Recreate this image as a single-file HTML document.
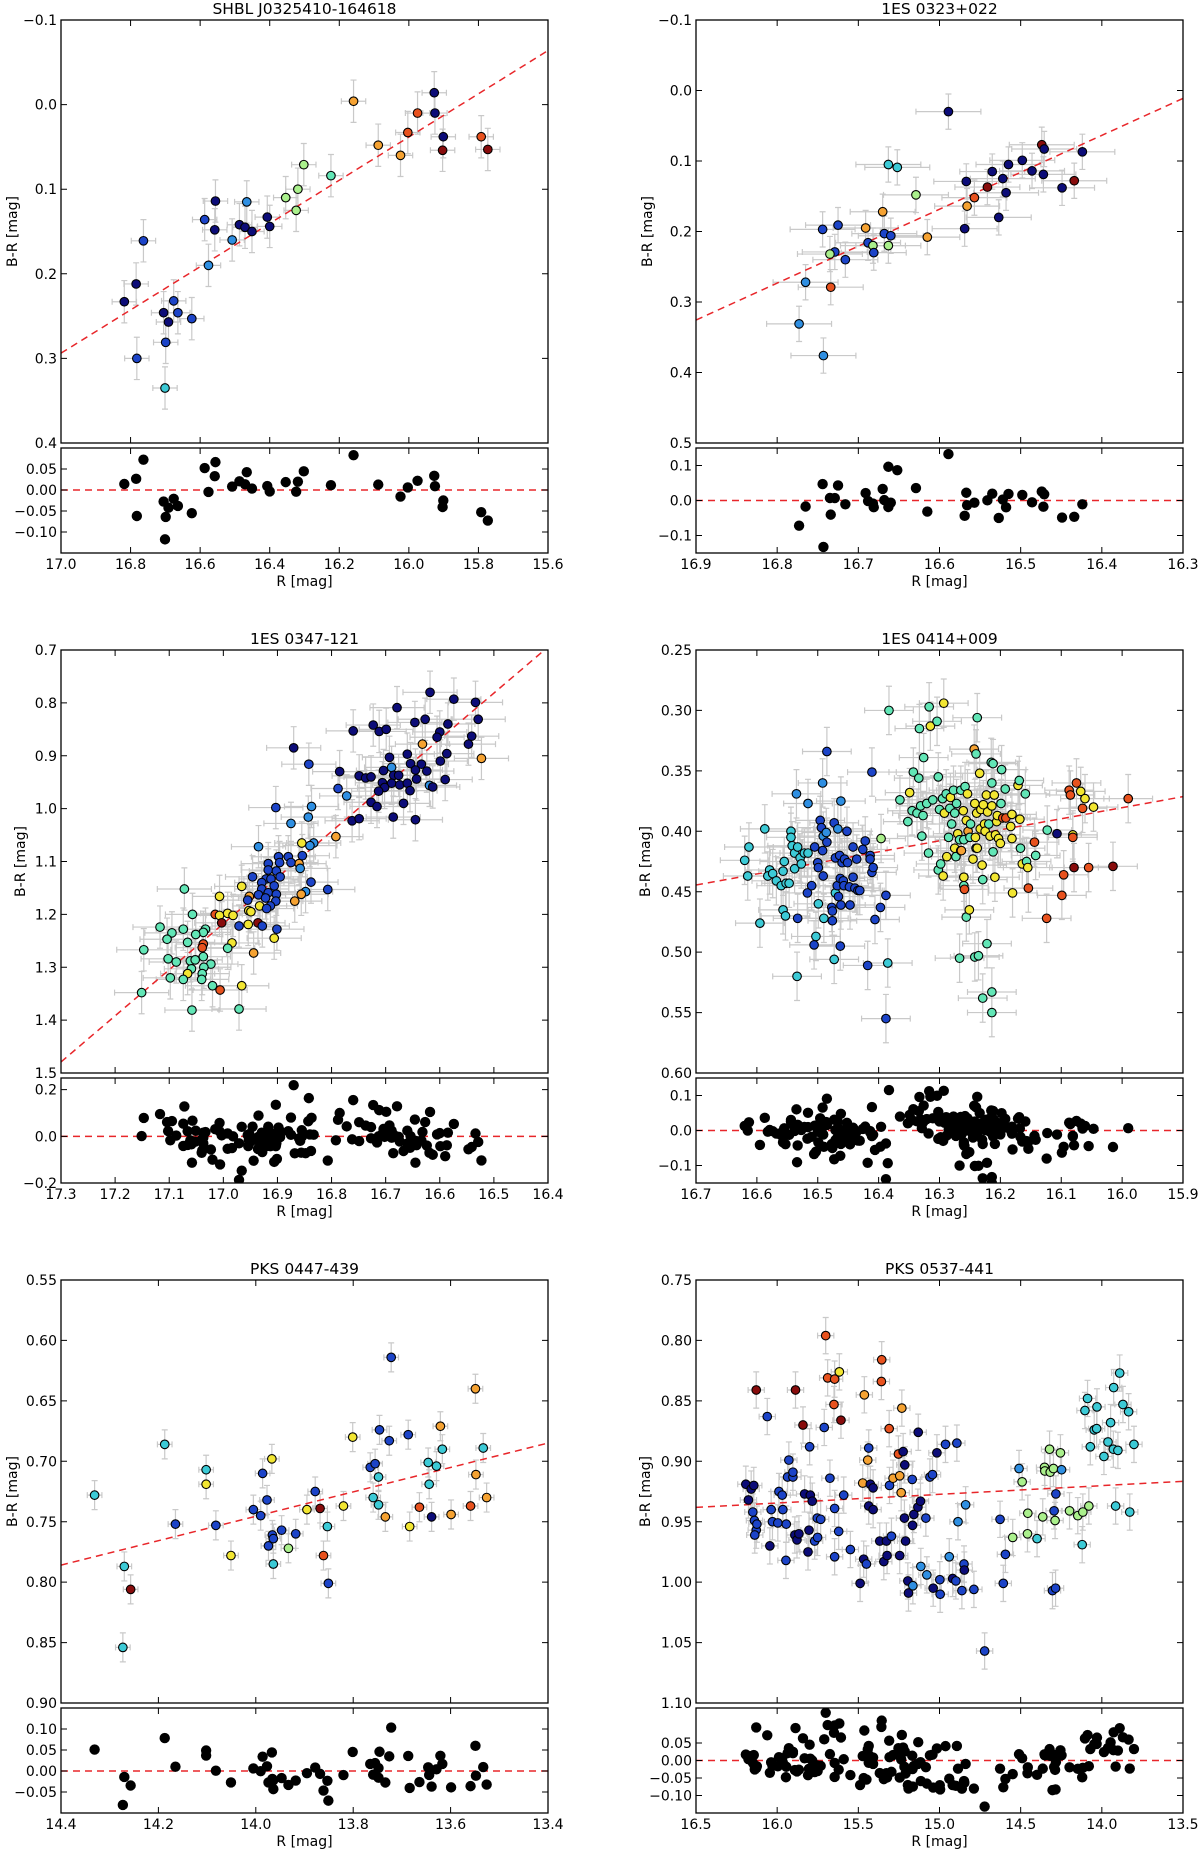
<!DOCTYPE html>
<html><head><meta charset="utf-8"><title>B-R vs R color-magnitude diagrams</title>
<style>
html,body{margin:0;padding:0;background:#fff;}
svg{display:block;font-family:"DejaVu Sans","Liberation Sans",sans-serif;}
</style></head>
<body>
<svg id="fig" xmlns="http://www.w3.org/2000/svg" width="1200" height="1852" viewBox="0 0 1200 1852"></svg>
<script>
// ===== Panel 1: SHBL J0325410-164618 =====
const p1R=[16.818,16.784,16.763,16.782,16.705,16.691,16.676,16.664,16.699,16.701,16.624,16.587,16.556,16.558,16.576,16.508,16.487,16.471,16.466,16.451,16.407,16.400,16.354,16.324,16.319,16.302,16.224,16.159,16.088,16.024,16.003,15.975,15.927,15.925,15.901,15.903,15.792,15.773];
const p1BR=[0.233,0.212,0.161,0.300,0.246,0.257,0.232,0.246,0.281,0.335,0.253,0.136,0.114,0.148,0.190,0.160,0.142,0.145,0.115,0.150,0.133,0.144,0.110,0.125,0.100,0.071,0.084,-0.004,0.048,0.060,0.033,0.010,-0.014,0.010,0.038,0.054,0.038,0.053];
const p1Col="nnbbnnbbbcbbnnllnnlnnnggggaooorrnnndrd";
const p1Fit=[16.989,0.291,0.2555];
const p1Err=[0.035,0.025];
const p1XTicks=[17.0,16.8,16.6,16.4,16.2,16.0,15.8,15.6];
const p1XLabels=["17.0","16.8","16.6","16.4","16.2","16.0","15.8","15.6"];
const p1YTicks=[-0.1,0.0,0.1,0.2,0.3,0.4];
const p1YLabels=["\u22120.1","0.0","0.1","0.2","0.3","0.4"];
const p1ResTicks=[0.05,0.0,-0.05,-0.10];
const p1ResLabels=["0.05","0.00","\u22120.05","\u22120.10"];

// ===== Panel 2: 1ES 0323+022 =====
const p2R=[16.589,16.663,16.652,16.744,16.725,16.629,16.670,16.691,16.668,16.660,16.688,16.682,16.663,16.681,16.729,16.735,16.716,16.765,16.734,16.773,16.743,16.615,16.569,16.567,16.566,16.557,16.541,16.535,16.527,16.522,16.518,16.515,16.498,16.486,16.474,16.471,16.472,16.449,16.434,16.424];
const p2BR=[0.030,0.105,0.109,0.197,0.191,0.148,0.172,0.195,0.203,0.206,0.216,0.220,0.220,0.230,0.229,0.232,0.240,0.272,0.279,0.331,0.376,0.208,0.196,0.129,0.164,0.152,0.137,0.115,0.180,0.125,0.145,0.105,0.099,0.114,0.077,0.083,0.119,0.138,0.128,0.087];
const p2Col="nccbbgoobbbggbbgblrllonnordnnnnnnndnnndn";
const p2Fit=[16.895,0.323,0.524];
const p2Err=[0.04,0.025];
const p2XTicks=[16.9,16.8,16.7,16.6,16.5,16.4,16.3];
const p2XLabels=["16.9","16.8","16.7","16.6","16.5","16.4","16.3"];
const p2YTicks=[-0.1,0.0,0.1,0.2,0.3,0.4,0.5];
const p2YLabels=["\u22120.1","0.0","0.1","0.2","0.3","0.4","0.5"];
const p2ResTicks=[0.1,0.0,-0.1];
const p2ResLabels=["0.1","0.0","\u22120.1"];

// ===== Panel 3: 1ES 0347-121 =====
const p3R=[16.618,16.574,16.534,16.679,16.529,16.646,16.627,16.723,16.585,16.760,16.712,16.699,16.600,16.605,16.541,16.547,16.632,16.870,16.523,16.587,16.660,16.693,16.599,16.842,16.654,16.634,16.689,16.785,16.704,16.645,16.624,16.749,16.737,16.727,16.685,16.676,16.590,16.643,16.706,16.689,16.674,16.660,16.619,16.613,16.788,16.702,16.655,16.713,16.772,16.727,16.667,16.716,16.903,16.837,16.843,16.762,16.749,16.686,16.645,16.875,16.792,16.855,16.833,16.840,16.935,16.898,16.880,16.854,16.860,16.917,16.896,16.875,16.858,16.917,16.902,16.946,16.895,16.921,16.929,16.912,16.906,16.838,16.807,16.929,16.966,17.072,16.917,16.848,16.935,16.902,16.856,17.007,16.952,16.922,16.955,16.903,16.868,16.913,16.933,16.920,16.953,16.949,17.057,17.015,17.007,16.992,16.982,17.003,16.936,16.954,16.971,16.928,16.901,17.117,17.074,17.095,17.033,17.037,17.051,17.104,17.066,16.984,17.037,17.039,16.992,17.147,16.906,16.944,17.037,17.102,17.087,17.061,17.052,17.023,17.036,17.059,17.066,17.039,17.098,17.074,17.040,17.020,17.006,16.966,17.151,17.058,16.971];
const p3BR=[0.780,0.793,0.799,0.809,0.831,0.837,0.831,0.842,0.840,0.853,0.854,0.850,0.855,0.865,0.863,0.878,0.878,0.885,0.905,0.896,0.897,0.903,0.910,0.916,0.915,0.916,0.922,0.930,0.928,0.927,0.929,0.938,0.942,0.940,0.937,0.937,0.945,0.944,0.951,0.952,0.955,0.952,0.956,0.959,0.962,0.960,0.966,0.967,0.976,0.988,0.990,0.996,0.998,0.996,1.016,1.023,1.019,1.016,1.021,1.028,1.053,1.065,1.065,1.070,1.072,1.091,1.091,1.089,1.104,1.104,1.102,1.102,1.113,1.116,1.118,1.129,1.129,1.133,1.140,1.133,1.146,1.139,1.153,1.152,1.147,1.152,1.159,1.157,1.163,1.162,1.162,1.166,1.166,1.169,1.173,1.175,1.175,1.184,1.184,1.189,1.193,1.195,1.200,1.200,1.202,1.198,1.202,1.216,1.216,1.219,1.222,1.222,1.228,1.224,1.228,1.235,1.228,1.234,1.238,1.247,1.253,1.254,1.256,1.263,1.264,1.267,1.245,1.273,1.280,1.284,1.290,1.288,1.286,1.294,1.300,1.303,1.312,1.312,1.320,1.323,1.323,1.335,1.343,1.335,1.348,1.381,1.379];
const p3Col="nnnnnnnnnn"+"nnnnnnonon"+"nnnbnnlnnn"+"nnnnnnnnnn"+"nnlnbnnnln"+"nnbllnnnnl"+"oylllbbbob"+"bblbbbbbbb"+"bbbbyablbb"+"oyobbbobyb"+"yyaryyyddy"+"bbbaaaaaaa"+"ayrraayoaa"+"aaaaaayaaa"+"aaryaaa";
const p3Fit=[17.293,1.473,0.872];
const p3Err=[0.05,0.04];
const p3XTicks=[17.3,17.2,17.1,17.0,16.9,16.8,16.7,16.6,16.5,16.4];
const p3XLabels=["17.3","17.2","17.1","17.0","16.9","16.8","16.7","16.6","16.5","16.4"];
const p3YTicks=[0.7,0.8,0.9,1.0,1.1,1.2,1.3,1.4,1.5];
const p3YLabels=["0.7","0.8","0.9","1.0","1.1","1.2","1.3","1.4","1.5"];
const p3ResTicks=[0.2,0.0,-0.2];
const p3ResLabels=["0.2","0.0","\u22120.2"];

// ===== Panel 4: 1ES 0414+009 =====
const p4R=[16.620,16.613,16.615,16.587,16.595,16.579,16.582,16.574,16.568,16.560,16.557,16.555,16.552,16.547,16.557,16.553,16.544,16.544,16.542,16.538,16.538,16.535,16.534,16.533,16.533,16.529,16.527,16.522,16.516,16.516,16.517,16.510,16.505,16.500,16.499,16.499,16.506,16.503,16.496,16.494,16.492,16.491,16.492,16.491,16.490,16.486,16.485,16.485,16.477,16.476,16.476,16.473,16.471,16.471,16.468,16.467,16.466,16.464,16.463,16.463,16.462,16.462,16.460,16.458,16.457,16.456,16.473,16.452,16.451,16.448,16.447,16.442,16.442,16.439,16.436,16.434,16.431,16.426,16.422,16.414,16.414,16.411,16.409,16.411,16.418,16.406,16.397,16.396,16.388,16.385,16.388,
16.383,16.365,16.352,16.349,16.345,16.343,16.337,16.334,16.333,16.331,16.329,16.327,16.326,16.321,16.318,16.317,16.315,16.311,16.304,16.302,16.302,16.300,16.298,16.295,16.294,16.293,16.292,16.289,16.288,16.285,16.283,16.282,16.280,16.277,16.275,16.275,16.273,16.272,16.270,16.267,16.267,16.265,16.265,16.264,16.261,16.260,16.260,16.260,16.259,16.256,16.258,16.256,16.254,16.253,16.251,16.250,16.249,16.245,16.243,16.242,16.241,16.240,16.240,16.238,16.238,16.239,16.242,16.236,16.234,16.233,16.232,16.230,16.229,16.229,16.228,16.226,16.225,16.223,16.222,16.221,16.219,16.217,16.215,16.214,16.214,16.212,16.212,16.214,16.214,16.210,16.209,16.208,16.206,16.205,16.203,16.200,16.199,16.198,16.196,16.192,16.191,16.183,16.181,16.181,16.180,16.171,16.169,16.168,16.167,16.164,16.159,16.157,16.155,16.154,16.144,16.142,16.124,16.123,16.107,16.099,16.096,16.087,16.085,16.081,16.081,16.079,16.075,16.068,16.065,16.061,16.055,16.047,16.015,15.990];
const p4BR=[0.424,0.413,0.437,0.398,0.476,0.432,0.437,0.435,0.441,0.445,0.433,0.425,0.443,0.443,0.465,0.470,0.400,0.405,0.412,0.418,0.431,0.369,0.520,0.472,0.413,0.422,0.427,0.418,0.418,0.377,0.451,0.445,0.413,0.426,0.430,0.460,0.494,0.487,0.391,0.397,0.360,0.404,0.416,0.437,0.472,0.401,0.334,0.409,0.463,0.466,0.474,0.393,0.422,0.451,0.445,0.398,0.454,0.420,0.439,0.495,0.375,0.461,0.426,0.441,0.445,0.423,0.506,0.400,0.426,0.446,0.461,0.438,0.413,0.447,0.423,0.449,0.449,0.415,0.408,0.420,0.423,0.434,0.430,0.351,0.511,0.473,0.463,0.406,0.453,0.509,0.555,
0.300,0.374,0.392,0.368,0.383,0.351,0.385,0.356,0.315,0.379,0.404,0.387,0.339,0.377,0.418,0.297,0.313,0.374,0.309,0.355,0.432,0.382,0.427,0.373,0.437,0.294,0.385,0.369,0.421,0.405,0.381,0.372,0.394,0.366,0.385,0.414,0.421,0.377,0.402,0.407,0.505,0.366,0.416,0.416,0.383,0.438,0.445,0.407,0.448,0.391,0.363,0.471,0.369,0.400,0.465,0.405,0.394,0.423,0.332,0.377,0.405,0.336,0.414,0.306,0.414,0.385,0.504,0.503,0.352,0.398,0.382,0.428,0.440,0.538,0.378,0.394,0.400,0.370,0.493,0.384,0.394,0.404,0.343,0.360,0.379,0.344,0.417,0.533,0.550,0.370,0.438,0.403,0.392,0.387,0.406,0.410,0.377,0.349,0.389,0.365,0.389,0.396,0.386,0.406,0.451,0.362,0.358,0.390,0.414,0.427,0.369,0.425,0.430,0.447,0.409,0.420,0.472,0.399,0.402,0.453,0.436,0.366,0.370,0.403,0.405,0.430,0.360,0.367,0.381,0.373,0.430,0.380,0.429,0.373];
const p4Col="cccccccccc"+"cccccccccc"+"clcbcccccl"+"bbbbbcbcbb"+"llbbclbbbb"+"bbbcblbbbb"+"lbbbbbcbbb"+"bbbbbbbbbb"+"bbbbbbbgbcb"+
"aaayaaaaaa"+"aaaaaayaaa"+"aaaayyyaya"+"ayaaayaaya"+"aayoyyaary"+"aayoyaayoy"+"yaaayyaayy"+"yyaayyyyay"+"ayaayaaaay"+"yyyyyyaara"+"ryyyyyayay"+"aayrraranrr"+"rryrdryryr"+"ydrr";
const p4Fit=[16.695,0.444,0.0914];
const p4Err=[0.04,0.02];
const p4XTicks=[16.7,16.6,16.5,16.4,16.3,16.2,16.1,16.0,15.9];
const p4XLabels=["16.7","16.6","16.5","16.4","16.3","16.2","16.1","16.0","15.9"];
const p4YTicks=[0.25,0.30,0.35,0.40,0.45,0.50,0.55,0.60];
const p4YLabels=["0.25","0.30","0.35","0.40","0.45","0.50","0.55","0.60"];
const p4ResTicks=[0.1,0.0,-0.1];
const p4ResLabels=["0.1","0.0","\u22120.1"];

// ===== Panel 5: PKS 0447-439 =====
const p5R=[14.331,14.270,14.257,14.273,14.187,14.165,14.102,14.102,14.082,14.051,14.005,13.990,13.986,13.977,13.974,13.967,13.966,13.964,13.964,13.947,13.933,13.918,13.895,13.878,13.868,13.861,13.853,13.851,13.820,13.801,13.765,13.755,13.759,13.748,13.748,13.746,13.734,13.726,13.722,13.687,13.684,13.664,13.646,13.644,13.639,13.629,13.621,13.617,13.599,13.559,13.549,13.548,13.533,13.526];
const p5BR=[0.728,0.787,0.806,0.854,0.686,0.752,0.707,0.719,0.753,0.778,0.740,0.745,0.710,0.732,0.770,0.698,0.761,0.764,0.785,0.757,0.772,0.760,0.740,0.725,0.739,0.778,0.754,0.801,0.737,0.680,0.705,0.702,0.730,0.713,0.736,0.674,0.746,0.683,0.614,0.678,0.754,0.738,0.701,0.719,0.746,0.704,0.671,0.690,0.744,0.737,0.640,0.711,0.689,0.730];
const p5Col="ccdccbcyby"+"bbbbbybbcb"+"gbybdrcbyy"+"bbcccbobbb"+"yrccncocor"+"ooco";
const p5Fit=[14.391,0.785,0.101];
const p5Err=[0.015,0.012];
const p5XTicks=[14.4,14.2,14.0,13.8,13.6,13.4];
const p5XLabels=["14.4","14.2","14.0","13.8","13.6","13.4"];
const p5YTicks=[0.55,0.60,0.65,0.70,0.75,0.80,0.85,0.90];
const p5YLabels=["0.55","0.60","0.65","0.70","0.75","0.80","0.85","0.90"];
const p5ResTicks=[0.10,0.05,0.0,-0.05];
const p5ResLabels=["0.10","0.05","0.00","\u22120.05"];

// ===== Panel 6: PKS 0537-441 =====
const p6R=[16.193,16.177,16.160,16.144,16.150,16.140,16.129,16.138,16.125,16.129,16.061,16.045,16.037,16.029,15.996,15.989,15.969,15.965,15.944,15.946,15.936,15.928,15.903,15.903,15.891,15.878,15.887,15.866,15.841,15.831,15.810,15.804,15.800,15.796,15.784,15.769,15.753,15.751,15.732,15.710,15.701,15.689,15.675,15.650,15.646,15.646,15.646,15.617,15.621,15.607,15.590,15.549,15.489,15.473,15.467,15.463,15.450,15.442,15.436,15.436,15.426,15.409,15.409,15.368,15.356,15.358,15.343,15.327,15.323,15.310,15.308,15.296,15.286,15.253,15.245,15.245,15.236,15.232,15.224,15.216,15.214,15.209,15.195,15.191,15.168,15.164,15.166,15.158,15.131,15.133,15.117,15.115,15.084,15.078,15.059,15.043,15.039,15.016,14.998,14.996,14.963,14.940,14.919,14.899,14.893,14.886,14.862,14.849,14.847,14.839,14.788,14.722,14.627,14.607,14.594,14.549,14.510,14.491,14.458,14.456,14.399,14.364,14.353,14.351,14.322,14.318,14.298,14.304,14.285,14.294,14.288,14.283,14.255,14.248,14.199,14.148,14.121,14.117,14.104,14.088,14.080,14.071,14.047,14.032,14.030,13.987,13.962,13.946,13.929,13.927,13.915,13.901,13.890,13.870,13.835,13.828,13.802];
const p6BR=[0.919,0.932,0.923,0.920,0.942,0.949,0.957,0.961,0.952,0.841,0.863,0.970,0.940,0.950,0.951,0.925,0.928,0.940,0.952,0.982,0.913,0.899,0.913,0.909,0.961,0.965,0.841,0.960,0.870,0.927,0.975,0.957,0.888,0.928,0.933,0.966,0.947,0.963,0.948,0.872,0.796,0.831,0.914,0.853,0.832,0.939,0.979,0.826,0.958,0.866,0.928,0.973,1.001,0.918,0.981,0.845,0.985,0.899,0.889,0.937,0.919,0.922,0.940,0.966,0.816,0.834,0.983,0.966,0.978,0.873,0.920,0.962,0.914,0.894,0.912,0.978,0.926,0.856,0.892,0.947,0.903,0.966,0.999,1.009,0.915,1.003,0.953,0.944,0.876,0.938,0.933,0.987,0.947,0.994,0.913,0.911,1.005,0.893,0.998,1.010,0.886,0.979,0.997,0.999,0.885,0.950,1.007,0.985,0.990,0.936,1.006,1.057,0.948,1.001,0.977,0.963,0.906,0.917,0.960,0.943,0.964,0.946,0.905,0.908,0.890,0.909,0.906,1.007,1.005,0.941,0.949,0.927,0.893,0.907,0.941,0.945,0.969,0.942,0.858,0.848,0.937,0.888,0.874,0.873,0.855,0.896,0.884,0.868,0.890,0.839,0.937,0.891,0.827,0.853,0.859,0.942,0.886];
const p6Col="nnnnbbbbbd"+"bnbbbbbbbb"+"bbbbnndndn"+"nnbnnbbbbb"+"rrbrrbbybd"+"bbnonobobn"+"nnnnrrnnnr"+"bboronoonn"+"nnnnblnnnn"+"nlblbbnnbb"+"blnbblbbnl"+"bbbbbglggg"+"cggggggbbb"+"gbglggcgcc"+"gccccccccc"+"ccccccc";
const p6Fit=[16.479,0.938,0.0072];
const p6Err=[0.05,0.015];
const p6XTicks=[16.5,16.0,15.5,15.0,14.5,14.0,13.5];
const p6XLabels=["16.5","16.0","15.5","15.0","14.5","14.0","13.5"];
const p6YTicks=[0.75,0.80,0.85,0.90,0.95,1.00,1.05,1.10];
const p6YLabels=["0.75","0.80","0.85","0.90","0.95","1.00","1.05","1.10"];
const p6ResTicks=[0.05,0.0,-0.05,-0.10];
const p6ResLabels=["0.05","0.00","\u22120.05","\u22120.10"];

const COLORS={n:"#0c0c78",b:"#1c44c8",l:"#2f8fe2",c:"#3ccad6",a:"#62e6b6",g:"#aaf08c",y:"#f2e632",o:"#f5a232",r:"#e8521e",d:"#880c0c"};
const NS="http://www.w3.org/2000/svg";
const svg=document.getElementById("fig");
function mk(tag,attrs,parent){const e=document.createElementNS(NS,tag);for(const k in attrs)e.setAttribute(k,attrs[k]);(parent||svg).appendChild(e);return e;}

function panel(id,title,cfg){
  const {R,BR,col,fit,err,xt,xl,yt,yl,rt,rl,xr,yr,rr,x0,x1,top,bot,rtop,rbot,ylabX}=cfg;
  const g=mk("g",{});
  
  
  const sx=v=>x0+(v-xr[0])/(xr[1]-xr[0])*(x1-x0);
  const sy=v=>top+(v-yr[0])/(yr[1]-yr[0])*(bot-top);
  const sr=v=>rtop+(rr[1]-v)/(rr[1]-rr[0])*(rbot-rtop);
  const fitF=r=>fit[1]+fit[2]*(r-fit[0]);
  // clip
  const cp=mk("clipPath",{id:id+"-clip"},g);mk("rect",{x:x0,y:top,width:x1-x0,height:bot-top},cp);
  const cpr=mk("clipPath",{id:id+"-rclip"},g);mk("rect",{x:x0,y:rtop,width:x1-x0,height:rbot-rtop},cpr);
  // title
  const t=mk("text",{x:(x0+x1)/2,y:top-6,"text-anchor":"middle","font-size":"15.5"},g);t.textContent=title;
  
  
  // y label
  const yL=mk("text",{x:ylabX,y:(top+bot)/2,"text-anchor":"middle","font-size":"14",transform:"rotate(-90 "+ylabX+" "+(top+bot)/2+")",dy:"0.35em"},g);yL.textContent="B-R [mag]";
  
  
  // x label
  const xL=mk("text",{x:(x0+x1)/2,y:rbot+33,"text-anchor":"middle","font-size":"14"},g);xL.textContent="R [mag]";
  
  
  // error bars
  const eg=mk("g",{stroke:"#c9c9c9","stroke-width":"1.2","clip-path":"url(#"+id+"-clip)"},g);
  
  
  for(let i=0;i<R.length;i++){
    const cx=sx(R[i]),cy=sy(BR[i]);
    const xa=sx(R[i]+err[0]),xb=sx(R[i]-err[0]),ya=sy(BR[i]-err[1]),yb=sy(BR[i]+err[1]);
    mk("path",{d:`M${xa},${cy}H${xb}M${xa},${cy-3}V${cy+3}M${xb},${cy-3}V${cy+3}M${cx},${ya}V${yb}M${cx-3},${ya}H${cx+3}M${cx-3},${yb}H${cx+3}`,fill:"none"},eg);
  }
  // fit line
  const fl=mk("line",{x1:x0,y1:sy(fitF(xr[0])),x2:x1,y2:sy(fitF(xr[1])),stroke:"#e8262a","stroke-width":"1.5","stroke-dasharray":"7,5","clip-path":"url(#"+id+"-clip)"},g);
  
  
  // points
  const pg=mk("g",{"clip-path":"url(#"+id+"-clip)"},g);
  for(let i=0;i<R.length;i++){
    const c=mk("circle",{cx:sx(R[i]),cy:sy(BR[i]),r:"4.3",fill:COLORS[col[i]]||"#1c44c8",stroke:"#000","stroke-width":"1.1"},pg);
    
    
  }
  // residual zero line and dots
  const zl=mk("line",{x1:x0,y1:sr(0),x2:x1,y2:sr(0),stroke:"#e8262a","stroke-width":"1.5","stroke-dasharray":"7,5"},g);
  
  
  const rg=mk("g",{"clip-path":"url(#"+id+"-rclip)"},g);
  for(let i=0;i<R.length;i++){
    const res=fitF(R[i])-BR[i];
    const c=mk("circle",{cx:sx(R[i]),cy:sr(res),r:"5.2",fill:"#000"},rg);
    
    
  }
  // frames
  const f1=mk("rect",{x:x0,y:top,width:x1-x0,height:bot-top,fill:"none",stroke:"#000","stroke-width":"1.3"},g);
  
  
  const f2=mk("rect",{x:x0,y:rtop,width:x1-x0,height:rbot-rtop,fill:"none",stroke:"#000","stroke-width":"1.3"},g);
  
  
  const tk=mk("g",{stroke:"#000","stroke-width":"1"},g);
  const tl=mk("g",{"font-size":"14",fill:"#000"},g);
  
  
  // x ticks
  xt.forEach((v,i)=>{const x=sx(v);
    mk("path",{d:`M${x},${bot}v-6M${x},${top}v6M${x},${rtop}v6M${x},${rbot}v-6`},tk);
    const tx=mk("text",{x:x,y:rbot+16,"text-anchor":"middle"},tl);tx.textContent=xl[i];});
  // y ticks main
  yt.forEach((v,i)=>{const y=sy(v);
    mk("path",{d:`M${x0},${y}h6M${x1},${y}h-6`},tk);
    const tx=mk("text",{x:x0-4,y:y,"text-anchor":"end",dy:"0.36em"},tl);tx.textContent=yl[i];});
  // residual ticks
  rt.forEach((v,i)=>{const y=sr(v);
    mk("path",{d:`M${x0},${y}h6M${x1},${y}h-6`},tk);
    const tx=mk("text",{x:x0-4,y:y,"text-anchor":"end",dy:"0.36em"},tl);tx.textContent=rl[i];});
}

const L=[61,548],Rc=[696,1183];
function rows(r){return {top:20+630*r,bot:443+630*r,rtop:448+630*r,rbot:553+630*r};}
panel("shbl-j0325","SHBL J0325410-164618",Object.assign({R:p1R,BR:p1BR,col:p1Col,fit:p1Fit,err:p1Err,xt:p1XTicks,xl:p1XLabels,yt:p1YTicks,yl:p1YLabels,rt:p1ResTicks,rl:p1ResLabels,xr:[17.0,15.6],yr:[-0.1,0.4],rr:[-0.15,0.10],x0:L[0],x1:L[1],ylabX:12},rows(0)));
panel("1es-0323","1ES 0323+022",Object.assign({R:p2R,BR:p2BR,col:p2Col,fit:p2Fit,err:p2Err,xt:p2XTicks,xl:p2XLabels,yt:p2YTicks,yl:p2YLabels,rt:p2ResTicks,rl:p2ResLabels,xr:[16.9,16.3],yr:[-0.1,0.5],rr:[-0.15,0.15],x0:Rc[0],x1:Rc[1],ylabX:647},rows(0)));
panel("1es-0347","1ES 0347-121",Object.assign({R:p3R,BR:p3BR,col:p3Col,fit:p3Fit,err:p3Err,xt:p3XTicks,xl:p3XLabels,yt:p3YTicks,yl:p3YLabels,rt:p3ResTicks,rl:p3ResLabels,xr:[17.3,16.4],yr:[0.7,1.5],rr:[-0.2,0.25],x0:L[0],x1:L[1],ylabX:20},rows(1)));
panel("1es-0414","1ES 0414+009",Object.assign({R:p4R,BR:p4BR,col:p4Col,fit:p4Fit,err:p4Err,xt:p4XTicks,xl:p4XLabels,yt:p4YTicks,yl:p4YLabels,rt:p4ResTicks,rl:p4ResLabels,xr:[16.7,15.9],yr:[0.25,0.60],rr:[-0.15,0.15],x0:Rc[0],x1:Rc[1],ylabX:645},rows(1)));
panel("pks-0447","PKS 0447-439",Object.assign({R:p5R,BR:p5BR,col:p5Col,fit:p5Fit,err:p5Err,xt:p5XTicks,xl:p5XLabels,yt:p5YTicks,yl:p5YLabels,rt:p5ResTicks,rl:p5ResLabels,xr:[14.4,13.4],yr:[0.55,0.90],rr:[-0.10,0.15],x0:L[0],x1:L[1],ylabX:12},rows(2)));
panel("pks-0537","PKS 0537-441",Object.assign({R:p6R,BR:p6BR,col:p6Col,fit:p6Fit,err:p6Err,xt:p6XTicks,xl:p6XLabels,yt:p6YTicks,yl:p6YLabels,rt:p6ResTicks,rl:p6ResLabels,xr:[16.5,13.5],yr:[0.75,1.10],rr:[-0.15,0.15],x0:Rc[0],x1:Rc[1],ylabX:645},rows(2)));
</script>
</body></html>
